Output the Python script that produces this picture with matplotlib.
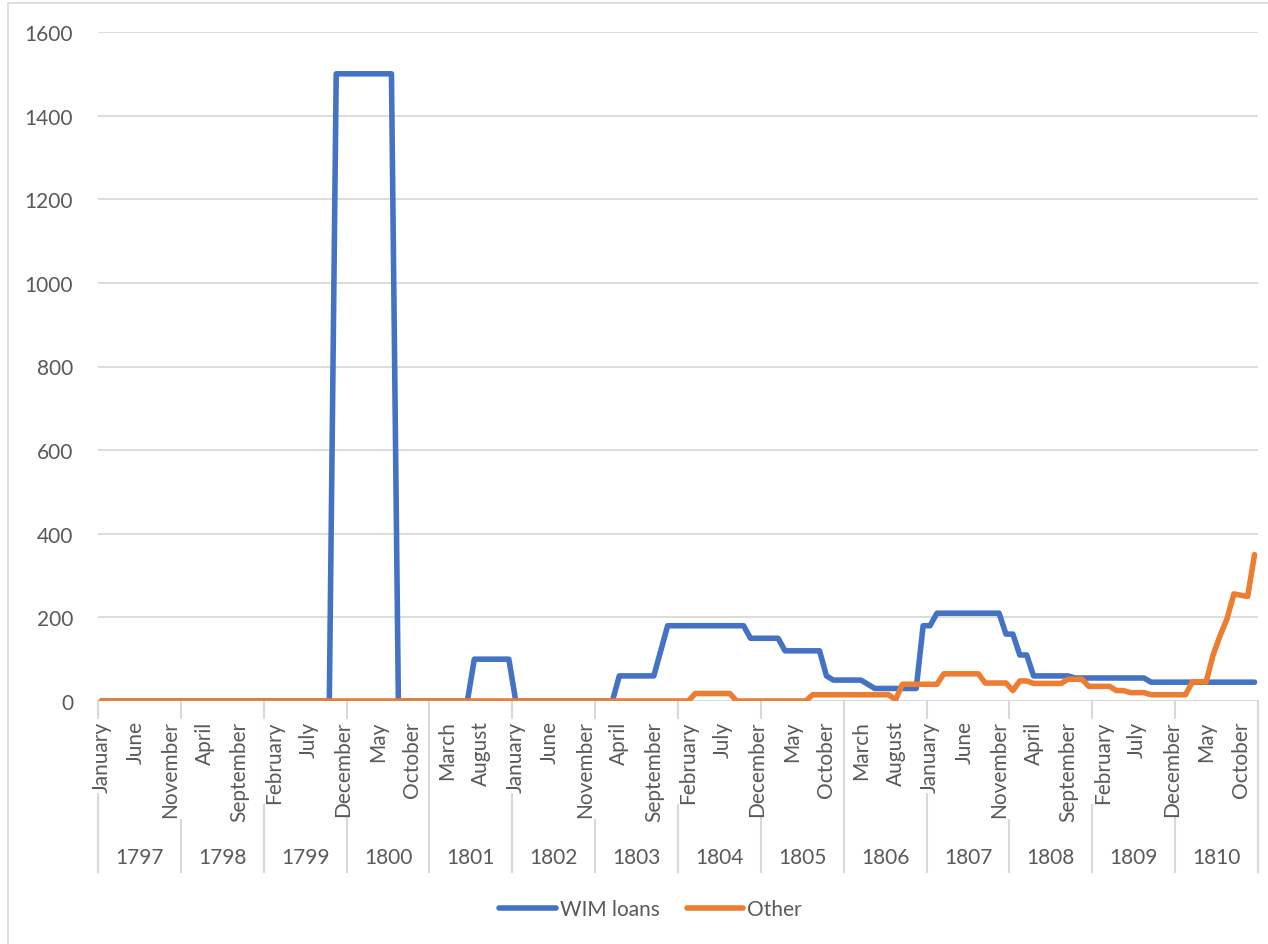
import numpy as np
import matplotlib.pyplot as plt
from matplotlib.patches import Rectangle

years = [1797, 1798, 1799, 1800, 1801, 1802, 1803, 1804, 1805, 1806, 1807, 1808, 1809, 1810]
month_names = ["January", "February", "March", "April", "May", "June", "July",
               "August", "September", "October", "November", "December"]

# monthly values, one row per year
wim_loans = [
    0, 0, 0, 0, 0, 0, 0, 0, 0, 0, 0, 0,                                  # 1797
    0, 0, 0, 0, 0, 0, 0, 0, 0, 0, 0, 0,                                  # 1798
    0, 0, 0, 0, 0, 0, 0, 0, 0, 0, 1500, 1500,                            # 1799
    1500, 1500, 1500, 1500, 1500, 1500, 1500, 0, 0, 0, 0, 0,             # 1800
    0, 0, 0, 0, 0, 0, 100, 100, 100, 100, 100, 100,                      # 1801
    0, 0, 0, 0, 0, 0, 0, 0, 0, 0, 0, 0,                                  # 1802
    0, 0, 0, 60, 60, 60, 60, 60, 60, 120, 180, 180,                      # 1803
    180, 180, 180, 180, 180, 180, 180, 180, 180, 180, 150, 150,          # 1804
    150, 150, 150, 120, 120, 120, 120, 120, 120, 60, 50, 50,             # 1805
    50, 50, 50, 40, 30, 30, 30, 30, 30, 30, 30, 180,                     # 1806
    180, 210, 210, 210, 210, 210, 210, 210, 210, 210, 210, 160,          # 1807
    160, 110, 110, 60, 60, 60, 60, 60, 60, 55, 55, 55,                   # 1808
    55, 55, 55, 55, 55, 55, 55, 55, 45, 45, 45, 45,                      # 1809
    45, 45, 45, 45, 45, 45, 45, 45, 45, 45, 45, 45,                      # 1810
]
other = [
    0, 0, 0, 0, 0, 0, 0, 0, 0, 0, 0, 0,                                  # 1797
    0, 0, 0, 0, 0, 0, 0, 0, 0, 0, 0, 0,                                  # 1798
    0, 0, 0, 0, 0, 0, 0, 0, 0, 0, 0, 0,                                  # 1799
    0, 0, 0, 0, 0, 0, 0, 0, 0, 0, 0, 0,                                  # 1800
    0, 0, 0, 0, 0, 0, 0, 0, 0, 0, 0, 0,                                  # 1801
    0, 0, 0, 0, 0, 0, 0, 0, 0, 0, 0, 0,                                  # 1802
    0, 0, 0, 0, 0, 0, 0, 0, 0, 0, 0, 0,                                  # 1803
    0, 0, 18, 18, 18, 18, 18, 18, 0, 0, 0, 0,                            # 1804
    0, 0, 0, 0, 0, 0, 0, 15, 15, 15, 15, 15,                             # 1805
    15, 15, 15, 15, 15, 15, 15, 3, 40, 40, 40, 40,                       # 1806
    40, 40, 65, 65, 65, 65, 65, 65, 43, 43, 43, 43,                      # 1807
    25, 48, 48, 42, 42, 42, 42, 42, 52, 52, 52, 35,                      # 1808
    35, 35, 35, 25, 25, 20, 20, 20, 15, 15, 15, 15,                      # 1809
    15, 15, 46, 46, 46, 110, 156, 196, 256, 253, 250, 350,               # 1810
]

grey = "#595959"
grid = "#d9d9d9"
plt.rcParams["font.family"] = ["Lato", "DejaVu Sans"]

fig = plt.figure(figsize=(12.68, 9.45), dpi=100)
fig.patches.append(Rectangle((8 / 1268, -0.1), 1.2, 1 - 4 / 945 + 0.1,
                             transform=fig.transFigure, fill=False,
                             edgecolor=grid, linewidth=1.2, zorder=0))
ax = fig.add_axes([98 / 1268, 1 - 702 / 945, 1160 / 1268, 669 / 945])

x = np.arange(len(wim_loans))
ax.plot(x, wim_loans, color="#4472C4", lw=4, solid_joinstyle="round",
        solid_capstyle="round", label="WIM loans", zorder=3)
ax.plot(x, other, color="#ED7D31", lw=4, solid_joinstyle="round",
        solid_capstyle="round", label="Other", zorder=4)

ax.set_xlim(-0.5, len(x) - 0.5)
ax.set_ylim(0, 1600)
ax.set_yticks(range(0, 1601, 200))
ax.yaxis.grid(True, color=grid, lw=1.3)
ax.set_axisbelow(True)
for s in ax.spines.values():
    s.set_visible(False)
ax.tick_params(axis="y", length=0, pad=18, labelsize=15, labelcolor=grey)

# month labels every fifth month, boxed in white so the separators break behind them
ticks = x[::5]
ax.set_xticks(ticks)
ax.set_xticklabels([month_names[i % 12] for i in ticks], rotation=90)
ax.tick_params(axis="x", length=0, pad=14, labelsize=15, labelcolor=grey)
for lab in ax.get_xticklabels():
    lab.set_bbox(dict(facecolor="white", edgecolor="none", pad=1))

# year row with separators
tr = ax.get_xaxis_transform()
for k, yr in enumerate(years):
    ax.text(12 * k + 5.5, -0.233, str(yr), transform=tr, ha="center",
            va="center", fontsize=15, color=grey)
for k in range(len(years) + 1):
    ax.plot([12 * k - 0.5] * 2, [0, -0.2556], transform=tr, color=grid,
            lw=1.5, clip_on=False, zorder=0.2)
ax.axhline(0, color=grid, lw=1.3, zorder=1)

fig.legend(loc="center", bbox_to_anchor=(0.513, 1 - 910 / 945), ncol=2,
           frameon=False, fontsize=15, labelcolor=grey, handlelength=2.7,
           handletextpad=0.2, columnspacing=1.3)

fig.savefig("out.png", dpi=100)
